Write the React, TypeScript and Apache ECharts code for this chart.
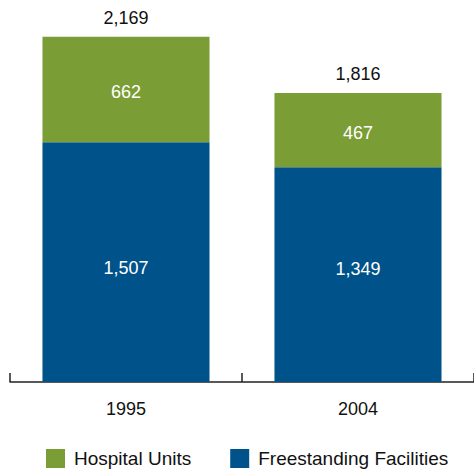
import React, { useEffect, useRef } from "react";
import * as echarts from "echarts";

const categories = ["1995", "2004"];
const freestanding = [1507, 1349];
const hospitalUnits = [662, 467];
const totals = [2169, 1816];

const fmt = (v: number) => v.toLocaleString("en-US");

export default function App() {
  const ref = useRef<HTMLDivElement>(null);
  useEffect(() => {
    if (!ref.current) return;
    const chart = echarts.init(ref.current, undefined, { renderer: "svg" });
    const font = "'Liberation Sans', Arial, sans-serif";
    const freeOffsets = [6, -6];
    chart.setOption({
      animation: false,
      textStyle: { fontFamily: font },
      grid: { left: 10, right: -4, top: 0, bottom: 94 },
      legend: {
        bottom: 3,
        left: 41,
        itemWidth: 19,
        itemHeight: 19,
        itemGap: 39,
        icon: "rect",
        textStyle: { fontSize: 19, color: "#111", fontFamily: font, padding: [0, 0, 0, 4] },
        data: ["Hospital Units", "Freestanding Facilities"],
      },
      xAxis: {
        type: "category",
        data: categories,
        axisLine: { show: true, lineStyle: { color: "#222", width: 1.5 } },
        axisTick: { show: true, inside: true, length: 9, alignWithLabel: false, lineStyle: { color: "#222", width: 1.5 } },
        axisLabel: { fontSize: 18, color: "#111", margin: 18, fontFamily: font },
      },
      yAxis: { type: "value", min: 0, max: 2400, show: false, splitLine: { show: false } },
      series: [
        {
          name: "Freestanding Facilities",
          type: "bar",
          stack: "t",
          barWidth: "72%",
          data: freestanding.map((v, i) => ({ value: v, label: { offset: [0, freeOffsets[i]] } })),
          itemStyle: { color: "#00538A" },
          label: {
            show: true,
            position: "inside",
            color: "#fff",
            fontSize: 18,
            fontFamily: font,
            formatter: (p: any) => fmt(p.value),
          },
        },
        {
          name: "Hospital Units",
          type: "bar",
          stack: "t",
          barWidth: "72%",
          data: hospitalUnits,
          itemStyle: { color: "#7B9D36" },
          label: {
            show: true,
            position: "inside",
            color: "#fff",
            fontSize: 18,
            fontFamily: font,
            offset: [0, 3],
            formatter: (p: any) => fmt(p.value),
          },
        },
        {
          name: "Total",
          type: "bar",
          stack: "t",
          barWidth: "72%",
          data: totals.map(() => 0),
          itemStyle: { color: "transparent" },
          silent: true,
          label: {
            show: true,
            position: "top",
            distance: 10,
            color: "#111",
            fontSize: 18,
            fontFamily: font,
            formatter: (p: any) => fmt(totals[p.dataIndex]),
          },
        },
      ],
    });
    return () => chart.dispose();
  }, []);
  return <div ref={ref} style={{ width: 474, height: 476, position: "absolute", left: 0, top: 0 }} />;
}
